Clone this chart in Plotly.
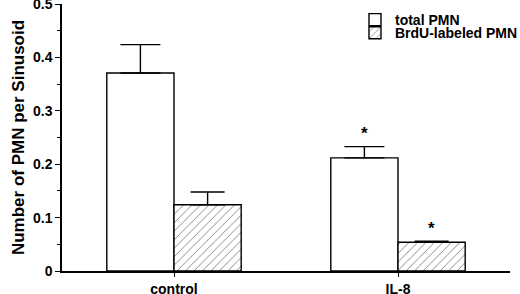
import plotly.graph_objects as go

categories = ["control", "IL-8"]
total_pmn = [0.371, 0.212]
total_err = [0.053, 0.021]
brdu_pmn = [0.124, 0.054]
brdu_err = [0.024, 0.002]
sig_total = ["", "*"]
sig_brdu = ["", "*"]
y_tickvals = [0, 0.1, 0.2, 0.3, 0.4, 0.5]
y_ticktext = ["0", "0.1", "0.2", "0.3", "0.4", "0.5"]

BARGAP = 0.4
bar_w = (1 - BARGAP) / 2

font = dict(family="Arial", size=14, color="black", weight="bold")

fig = go.Figure()
fig.add_trace(go.Bar(
    name="total PMN", x=categories, y=total_pmn, legend="legend",
    marker=dict(color="white", line=dict(color="black", width=1.4)),
    error_y=dict(type="data", array=total_err, arrayminus=[0, 0], symmetric=False,
                 color="black", thickness=1.4, width=20),
))
fig.add_trace(go.Bar(
    name="BrdU-labeled PMN", x=categories, y=brdu_pmn, legend="legend2",
    marker=dict(color="white", line=dict(color="black", width=1.4),
                pattern=dict(shape="/", size=6, solidity=0.15, fgcolor="black", bgcolor="white")),
    error_y=dict(type="data", array=brdu_err, arrayminus=[0, 0], symmetric=False,
                 color="black", thickness=1.4, width=17),
))

# significance asterisks above error bars
for i, cat in enumerate(categories):
    for sig, vals, errs, off in [(sig_total, total_pmn, total_err, -bar_w / 2),
                                 (sig_brdu, brdu_pmn, brdu_err, bar_w / 2)]:
        if sig[i]:
            fig.add_annotation(x=i + off, y=vals[i] + errs[i], text=sig[i], showarrow=False,
                               yanchor="middle", yshift=13,
                               font=dict(family="Arial", size=17, color="black"))

legend_common = dict(xanchor="left", yanchor="top", bgcolor="rgba(0,0,0,0)",
                     font=dict(family="Arial", size=14, color="black", weight="bold"))

fig.update_layout(
    width=520, height=294,
    margin=dict(l=62, r=10, t=4, b=23, autoexpand=False),
    paper_bgcolor="white", plot_bgcolor="white",
    barmode="group", bargap=BARGAP, bargroupgap=0,
    font=font,
    showlegend=True,
    legend=dict(x=0.654, y=1.0, **legend_common),
    legend2=dict(x=0.654, y=0.951, **legend_common),
    xaxis=dict(range=[-0.5, 1.5], showline=True, linecolor="black", linewidth=1.5,
               ticks="outside", ticklen=4, tickcolor="black", showgrid=False,
               tickfont=font, automargin=False),
    yaxis=dict(range=[0, 0.5002], showline=True, linecolor="black", linewidth=1.5,
               ticks="outside", ticklen=5, tickcolor="black", showgrid=False, zeroline=False,
               tickvals=y_tickvals, ticktext=y_ticktext, tickfont=font, automargin=False,
               ticklabeloverflow="allow",
               minor=dict(ticks="outside", ticklen=3, dtick=0.05, tick0=0, tickcolor="black", showgrid=False),
               title=dict(text="Number of PMN per Sinusoid",
                          font=dict(family="Arial", size=17, weight="bold"), standoff=4)),
)

fig.write_html("out.html", config={"displayModeBar": False},
               post_script="document.body.style.margin='0';")
